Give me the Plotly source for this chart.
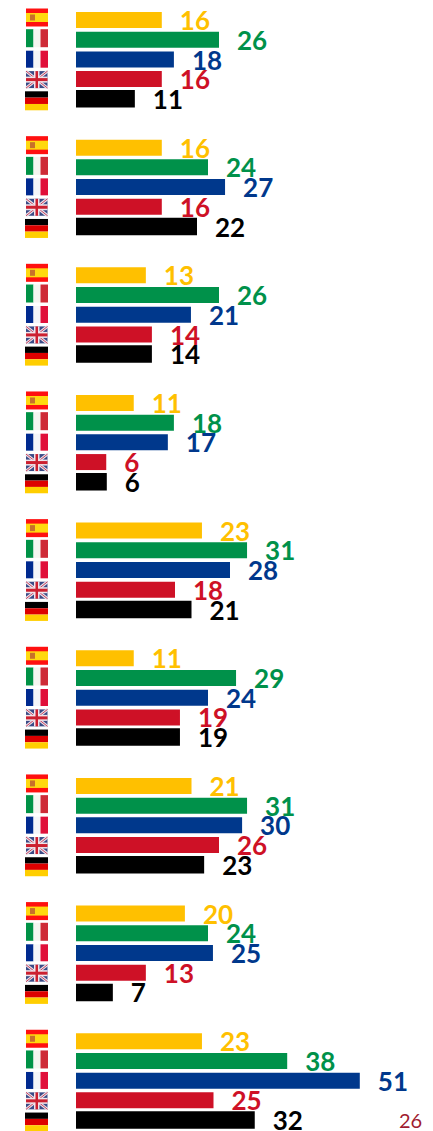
import plotly.graph_objects as go

W, H = 433, 1131
countries = ["Spain", "Italy", "France", "UK", "Germany"]
bar_colors = ["#FFC000", "#00914A", "#00388C", "#CE1126", "#000000"]

# Bar lengths
spain_len = [15.6, 15.6, 12.7, 10.5, 22.9, 10.5, 21.0, 19.8, 22.9]
italy_len = [26.0, 24.0, 26.0, 17.8, 31.1, 29.1, 31.1, 24.0, 38.4]
france_len = [17.8, 27.1, 20.9, 16.7, 28.0, 24.0, 30.2, 24.9, 51.6]
uk_len = [15.6, 15.6, 13.8, 5.5, 18.0, 18.9, 26.0, 12.7, 25.0]
germany_len = [10.7, 22.0, 13.8, 5.6, 21.0, 18.9, 23.3, 6.7, 32.5]

# Printed labels
spain_lab = [16, 16, 13, 11, 23, 11, 21, 20, 23]
italy_lab = [26, 24, 26, 18, 31, 29, 31, 24, 38]
france_lab = [18, 27, 21, 17, 28, 24, 30, 25, 51]
uk_lab = [16, 16, 14, 6, 18, 19, 26, 13, 25]
germany_lab = [11, 22, 14, 6, 21, 19, 23, 7, 32]
page_number = "26"

lengths = [spain_len, italy_len, france_len, uk_len, germany_len]
labels = [spain_lab, italy_lab, france_lab, uk_lab, germany_lab]

PX_PER_VAL = 5.5
X0_PX = 76
ROW_PX = 19.7
Y0_PX = 20
GROUP_ROWS = 6.48
FONT = "Lato, Carlito, sans-serif"


def ypos(g, r):
    return g * GROUP_ROWS + r


fig = go.Figure()
for r, (name, color) in enumerate(zip(countries, bar_colors)):
    ys = [ypos(g, r) for g in range(9)]
    fig.add_trace(go.Bar(
        x=lengths[r], y=ys, orientation="h", name=name,
        marker=dict(color=color, line=dict(width=0)),
        width=(17.5 if r == 4 else 16) / ROW_PX, hoverinfo="skip",
    ))
    fig.add_trace(go.Scatter(
        x=[v + 18 / PX_PER_VAL for v in lengths[r]],
        y=[y + 3.6 / ROW_PX for y in ys],
        mode="text", text=[str(v) for v in labels[r]],
        textposition="middle right",
        textfont=dict(family=FONT, size=26, color=color, weight="bold"),
        hoverinfo="skip", cliponaxis=False,
    ))

shapes = []


def rect(x0, x1, y0, y1, color):
    shapes.append(dict(type="rect", xref="paper", yref="y", x0=x0 / W, x1=x1 / W,
                       y0=y0, y1=y1, fillcolor=color, line=dict(width=0), layer="above"))


def line(x0, x1, y0, y1, color, w):
    shapes.append(dict(type="line", xref="paper", yref="y", x0=x0 / W, x1=x1 / W,
                       y0=y0, y1=y1, line=dict(color=color, width=w), layer="above"))


for g in range(9):
    # Spain
    c = ypos(g, 0) - 2.5 / ROW_PX
    h = 9 / ROW_PX
    rect(26, 48, c - h, c + h, "#FF1010")
    rect(26, 48, c - h / 2, c + h / 2, "#FFD90F")
    rect(30, 35, c - 3 / ROW_PX, c + 3 / ROW_PX, "#C8702A")
    # Italy
    c = ypos(g, 1) - 1.5 / ROW_PX
    h = 9 / ROW_PX
    rect(26, 33.5, c - h, c + h, "#009246")
    rect(33.5, 40.5, c - h, c + h, "#F4F5F0")
    rect(40.5, 48, c - h, c + h, "#CE2B37")
    # France
    c = ypos(g, 2) - 0.2 / ROW_PX
    h = 8.5 / ROW_PX
    rect(26, 33.5, c - h, c + h, "#002A8F")
    rect(33.5, 40.5, c - h, c + h, "#F4F5F8")
    rect(40.5, 48, c - h, c + h, "#E0103A")
    # UK
    c = ypos(g, 3) + 0.5 / ROW_PX
    h = 8.5 / ROW_PX
    rect(26, 47.5, c - h, c + h, "#3A4A86")
    line(26, 47.5, c - h, c + h, "#E8E4EA", 3)
    line(26, 47.5, c + h, c - h, "#E8E4EA", 3)
    line(26, 47.5, c - h, c + h, "#C84060", 1)
    line(26, 47.5, c + h, c - h, "#C84060", 1)
    rect(26, 47.5, c - 3 / ROW_PX, c + 3 / ROW_PX, "#F0E4EA")
    rect(34, 39.5, c - h, c + h, "#F0E4EA")
    rect(26, 47.5, c - 1.5 / ROW_PX, c + 1.5 / ROW_PX, "#CC2030")
    rect(35.5, 38, c - h, c + h, "#CC2030")
    # Germany
    c = ypos(g, 4) + 2 / ROW_PX
    h = 9.5 / ROW_PX
    rect(25, 48, c - h, c - h / 3, "#000000")
    rect(25, 48, c - h / 3, c + h / 3, "#DD0000")
    rect(25, 48, c + h / 3, c + h, "#FFCE00")

fig.update_layout(
    width=W, height=H, margin=dict(l=0, r=0, t=0, b=0),
    paper_bgcolor="white", plot_bgcolor="white", showlegend=False,
    barmode="overlay", shapes=shapes,
    xaxis=dict(visible=False, range=[-X0_PX / PX_PER_VAL, (W - X0_PX) / PX_PER_VAL]),
    yaxis=dict(visible=False, range=[(H - Y0_PX) / ROW_PX, -Y0_PX / ROW_PX]),
    annotations=[dict(text=page_number, xref="paper", yref="paper",
                      x=424 / W, y=1 - 1120 / H, xanchor="right", yanchor="middle",
                      showarrow=False, font=dict(family=FONT, size=20, color="#A01C30"))],
)
fig.write_html("out.html", config=dict(displayModeBar=False),
               post_script="document.documentElement.style.overflow='hidden';document.body.style.margin='0';")
